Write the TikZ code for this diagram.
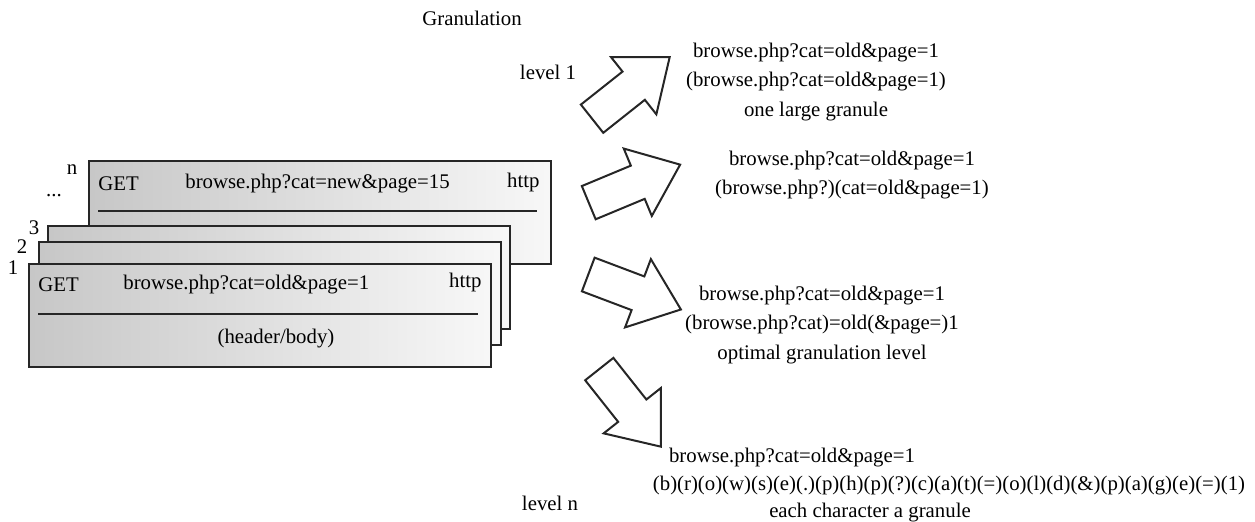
\documentclass[tikz,border=0pt]{standalone}
\usepackage{fontspec}
\setmainfont{Liberation Serif}
\usetikzlibrary{shapes.arrows}

\begin{document}
\begin{tikzpicture}[x=0.5pt,y=-0.5pt,
	reqbox/.style={rectangle, draw=black!85, line width=1.1pt, left color=black!22, right color=black!3,
	               minimum width=231pt, minimum height=51.5pt, anchor=north west, inner sep=0pt},
	sepline/.style={line width=0.9pt, draw=black!85},
	txt/.style={font=\fontsize{10.4}{14.8}\selectfont, inner sep=0pt, align=center},
	granarrow/.style={single arrow, draw=black!85, line width=1pt, fill=white,
	                  inner xsep=0pt, inner ysep=8.5pt,
	                  minimum height=49.5pt, single arrow head extend=9.25pt,
	                  single arrow tip angle=77}
	]
\useasboundingbox (0,0) rectangle (1255,522);

% stack of requests
\node[reqbox] (reqn) at (88,160) {};
\node[reqbox] (req3) at (47,225) {};
\node[reqbox] (req2) at (38,241) {};
\node[reqbox] (req1) at (28,263) {};
\draw[sepline] (98,211) -- (537,211);
\draw[sepline] (38,314) -- (478,314);

\node[txt, anchor=west] (getn) at (98,184) {GET};
\node[txt, anchor=west] (urln) at (185,184) {browse.php?cat=new\&page=15};
\node[txt, anchor=east] (httpn) at (540,183) {http};
\node[txt, anchor=west] (get1) at (38,285) {GET};
\node[txt, anchor=west] (url1) at (123,285) {browse.php?cat=old\&page=1};
\node[txt, anchor=east] (http1) at (482,283) {http};
\node[txt] (body1) at (276,339) {(header/body)};

\node[txt] (labn) at (72,170) {n};
\node[txt] (labdots) at (54,196) {...};
\node[txt] (lab3) at (34,228) {3};
\node[txt] (lab2) at (22,247) {2};
\node[txt] (lab1) at (13,268) {1};

% granulation levels
\node[txt] (title) at (472,18) {Granulation};
\node[txt] (lev1) at (548,72) {level 1};
\node[txt] (levn) at (550,503) {level n};

\node[granarrow, rotate=38.4] (arr1) at (622,95) {};
\node[granarrow, rotate=22.6] (arr2) at (624,188) {};
\node[granarrow, rotate=-20.7] (arr3) at (624,288) {};
\node[granarrow, rotate=-51.6] (arr4) at (623,399) {};

\node[txt] (gran1) at (816,82)
	{browse.php?cat=old\&page=1\\
	 (browse.php?cat=old\&page=1)\\
	 one large granule};
\node[txt] (gran2) at (852,175)
	{browse.php?cat=old\&page=1\\
	 (browse.php?)(cat=old\&page=1)};
\node[txt] (gran3) at (822,325)
	{browse.php?cat=old\&page=1\\
	 (browse.php?cat)=old(\&page=)1\\
	 optimal granulation level};
\node[txt] (gran4a) at (792,458) {browse.php?cat=old\&page=1};
\node[txt] (gran4b) at (949,486)
	{(b)(r)(o)(w)(s)(e)(.)(p)(h)(p)(?)(c)(a)(t)(=)(o)(l)(d)(\&)(p)(a)(g)(e)(=)(1)};
\node[txt] (gran4c) at (870,513) {each character a granule};
\end{tikzpicture}
\end{document}
